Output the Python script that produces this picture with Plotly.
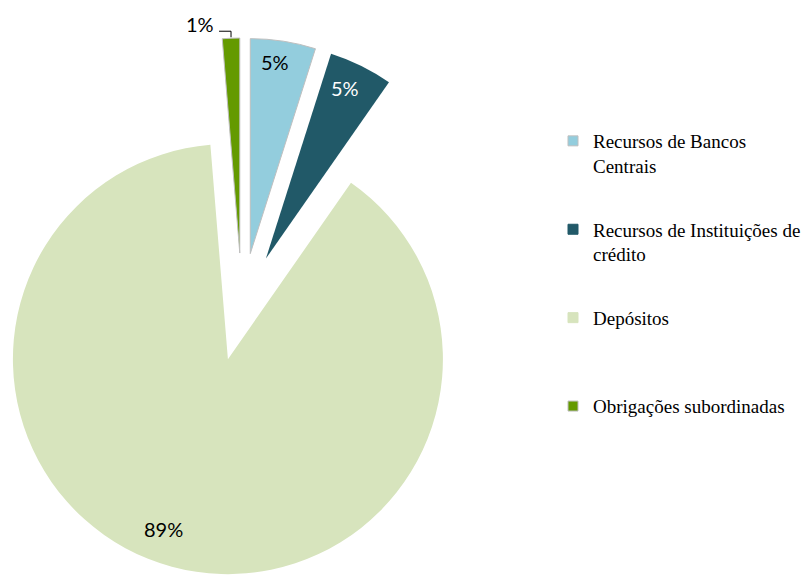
import math
import plotly.graph_objects as go

# ---------------- data ----------------
categories = [
    "Recursos de Bancos Centrais",
    "Recursos de Instituições de crédito",
    "Depósitos",
    "Obrigações subordinadas",
]
legend_labels = [
    "Recursos de Bancos<br>Centrais",
    "Recursos de Instituições de<br>crédito",
    "Depósitos<br> ",
    "Obrigações subordinadas<br> ",
]
values = [4.9, 4.8, 89.0, 1.3]

# ---------------- style ----------------
colors = ["#93CDDD", "#215968", "#D7E4BD", "#649A00"]
outlines = ["#BFBFBF", None, None, "#BFBFBF"]
label_colors = ["#000000", "#FFFFFF", "#000000", "#000000"]
label_r = [0.90, 0.875, 0.845, 1.0]        # label distance from apex (fraction of R)
label_dangle = [-1.5, -1.5, 5.5, 0.0]      # label angle shift (deg)

OFF = 8                 # page body margin of the html page (px)
W, H = 811 - OFF, 575 - OFF
CX, CY = 242 - OFF, 307 - OFF   # centre of the un-exploded pie (px, figure coords)
R = 215                # radius (px)
EXPLODE = 54           # explosion distance of every slice (px)
LABEL_FONT = dict(family="Lato, Open Sans, sans-serif", size=20)


def px_to_paper(x, y):
    return x / W, 1 - y / H


def clamp(v):
    return min(1.0, max(0.0, v))


fig = go.Figure()
annotations = []
shapes = []

total = sum(values)
start = 0.0
for i, (cat, v) in enumerate(zip(categories, values)):
    sweep = 360.0 * v / total
    mid = math.radians(start + sweep / 2)
    # apex of the exploded slice
    ax = CX + EXPLODE * math.sin(mid)
    ay = CY - EXPLODE * math.cos(mid)
    dom_x = [clamp((ax - R) / W), clamp((ax + R) / W)]
    dom_y = [clamp(1 - (ay + R) / H), clamp(1 - (ay - R) / H)]
    line_col = outlines[i] or colors[i]
    line_w = 1 if outlines[i] else 0
    fig.add_trace(go.Pie(
        values=[v, total - v],
        labels=[cat, cat + " (resto)"],
        sort=False,
        direction="clockwise",
        rotation=start,
        marker=dict(colors=[colors[i], "rgba(0,0,0,0)"],
                    line=dict(color=[line_col, "rgba(0,0,0,0)"], width=[line_w, 0])),
        textinfo="none",
        hovertemplate="%{label}<extra></extra>",
        showlegend=False,
        domain=dict(x=dom_x, y=dom_y),
    ))

    pct = f"{round(100 * v / total)}%"
    if sweep >= 10:
        la = mid + math.radians(label_dangle[i])
        lx = ax + label_r[i] * R * math.sin(la)
        ly = ay - label_r[i] * R * math.cos(la)
        px, py = px_to_paper(lx, ly)
        annotations.append(dict(
            x=px, y=py, xref="paper", yref="paper", text=pct, showarrow=False,
            xanchor="center", yanchor="middle",
            font=dict(color=label_colors[i], **LABEL_FONT),
        ))
    else:
        # outside label with elbow leader line
        ox = ax + R * math.sin(mid)
        oy = ay - R * math.cos(mid)
        p0 = px_to_paper(ox, oy - 1)
        p1 = px_to_paper(ox, oy - 7)
        p2 = px_to_paper(ox - 12, oy - 7)
        shapes.append(dict(
            type="path", xref="paper", yref="paper",
            path=f"M {p0[0]},{p0[1]} L {p1[0]},{p1[1]} L {p2[0]},{p2[1]}",
            line=dict(color="#000000", width=1),
        ))
        tx, ty = px_to_paper(ox - 15, oy - 14)
        annotations.append(dict(
            x=tx, y=ty, xref="paper", yref="paper", text=pct, showarrow=False,
            xanchor="right", yanchor="middle",
            font=dict(color=label_colors[i], **LABEL_FONT),
        ))
    start += sweep

# legend entries
for i, lab in enumerate(legend_labels):
    fig.add_trace(go.Scatter(
        x=[None], y=[None], mode="markers", name=lab,
        legendgroup=f"g{i}",
        marker=dict(symbol="square", size=10, color=colors[i],
                    line=dict(color=outlines[i] or colors[i], width=1)),
        hoverinfo="skip", showlegend=True,
    ))

fig.update_layout(
    width=W, height=H,
    margin=dict(l=0, r=0, t=0, b=0),
    paper_bgcolor="white", plot_bgcolor="white",
    xaxis=dict(visible=False), yaxis=dict(visible=False),
    showlegend=True,
    legend=dict(
        x=(553 - OFF) / W, y=1 - (122 - OFF) / H, xanchor="left", yanchor="top",
        font=dict(family="Liberation Serif, serif", size=19, color="#000000"),
        tracegroupgap=36, valign="top", itemwidth=30,
        bgcolor="rgba(0,0,0,0)",
    ),
    annotations=annotations,
    shapes=shapes,
)

fig.write_html("out.html")
